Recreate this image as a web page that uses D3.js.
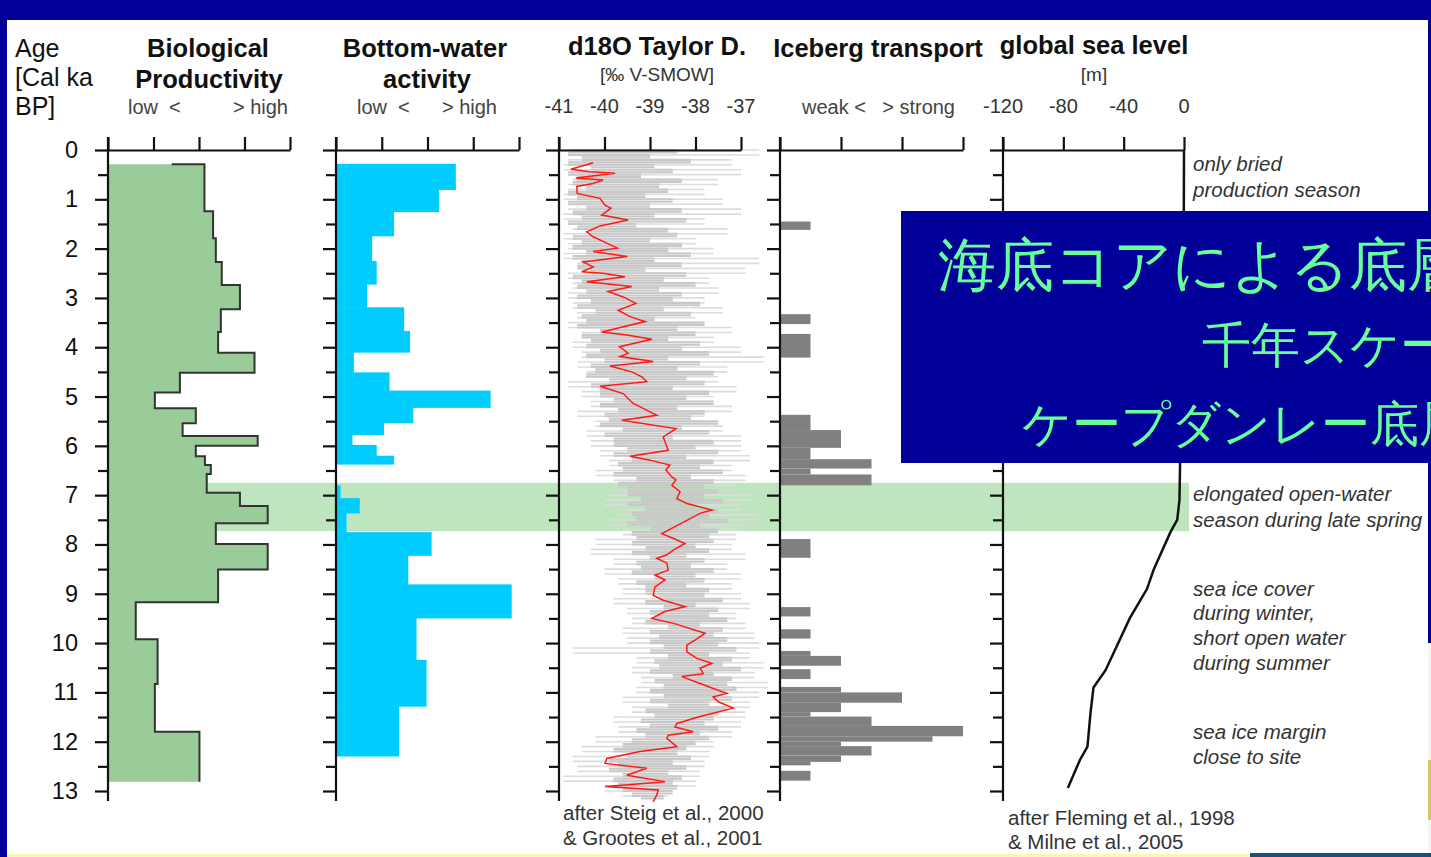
<!DOCTYPE html>
<html>
<head>
<meta charset="utf-8">
<script src="https://cdn.jsdelivr.net/npm/d3@7"></script>
<style>
  html, body { margin: 0; padding: 0; background: #000099; overflow: hidden; }
  svg { display: block; }
  text { font-family: "Liberation Sans", Arial, sans-serif; }
</style>
</head>
<body>
<svg id="chart" width="1431" height="857"></svg>
<script>
// ---------- data ----------
const ageLabels = [0, 1, 2, 3, 4, 5, 6, 7, 8, 9, 10, 11, 12, 13];
const ageHalfTicks = [0.5, 1.5, 2.5, 3.5, 4.5, 5.5, 6.5, 7.5, 8.5, 9.5, 10.5, 11.5, 12.5];

// Biological productivity (relative units 0-4), step profile
const bioBreaks = [0.29, 1.24, 1.79, 2.27, 2.74, 3.23, 3.69, 4.11, 4.52, 4.92, 5.24, 5.54, 5.80,
                   6.00, 6.21, 6.39, 6.57, 6.95, 7.22, 7.57, 7.99, 8.51, 9.17, 9.92, 10.83, 11.80, 12.81];
const bioValues = [2.12, 2.31, 2.37, 2.50, 2.90, 2.48, 2.42, 3.22, 1.58, 1.03, 1.93, 1.64, 3.29,
                   1.93, 2.13, 2.26, 2.17, 2.90, 3.51, 2.37, 3.51, 2.42, 0.61, 1.09, 1.03, 2.01];
const bioTopEdgeStart = 1.4;

// Bottom-water activity (relative units 0-4)
const bwTop   = [0.28, 0.80, 1.25, 1.74, 2.25, 2.72, 3.19, 3.67, 4.10, 4.51, 4.88, 5.22, 5.53, 5.77, 5.98, 6.20,
                 6.80, 7.06, 7.36, 7.75, 8.22, 8.81, 9.49, 10.34, 11.28];
const bwBase  = [0.80, 1.25, 1.74, 2.25, 2.72, 3.19, 3.67, 4.10, 4.51, 4.88, 5.22, 5.53, 5.77, 5.98, 6.20, 6.37,
                 7.06, 7.36, 7.75, 8.22, 8.81, 9.49, 10.34, 11.28, 12.29];
const bwValue = [2.62, 2.25, 1.27, 0.79, 0.89, 0.68, 1.49, 1.62, 0.39, 1.17, 3.38, 1.69, 1.05, 0.36, 0.89, 1.27,
                 0.10, 0.52, 0.23, 2.09, 1.58, 3.84, 1.76, 1.98, 1.38];

// d18O Taylor Dome: evenly spaced raw records (permil), first sample at age 0
const d18oStep = 0.05;
const d18oDark = [
  -40.7, -38.4, -40.8, -39.0, -40.5, -38.1, -40.8, -38.9, -40.3, -38.5, -40.8, -39.2, -40.6, -38.3, -40.7, -38.8, -40.4, -38.6, -40.8, -39.1,
  -40.6, -38.5, -40.8, -39.0, -40.4, -38.3, -40.7, -38.9, -40.5, -38.2, -40.8, -39.3, -40.6, -38.6, -40.3, -38.4, -40.7, -39.0, -40.5, -38.3,
  -40.7, -38.6, -40.4, -38.1, -40.7, -38.9, -40.5, -38.3, -40.6, -39.1, -40.3, -38.2, -40.7, -38.7, -40.5, -38.0, -40.6, -38.8, -40.4, -38.3,
  -40.6, -38.5, -40.3, -37.9, -40.6, -38.7, -40.2, -38.1, -40.5, -38.9, -40.4, -37.8, -40.6, -38.4, -40.1, -38.0, -40.5, -38.6, -40.3, -37.9,
  -40.4, -38.3, -40.1, -37.7, -40.4, -38.6, -40.0, -37.9, -40.3, -38.4, -40.2, -37.6, -40.4, -38.2, -39.9, -37.8, -40.3, -38.5, -40.1, -37.7,
  -40.1, -38.2, -39.8, -37.6, -40.1, -38.4, -39.7, -37.8, -40.0, -38.1, -39.9, -37.5, -40.1, -38.3, -39.6, -37.7, -40.0, -38.5, -39.8, -37.6,
  -39.8, -38.0, -39.5, -37.5, -39.8, -38.2, -39.4, -37.6, -39.7, -37.9, -39.6, -37.4, -39.8, -38.1, -39.3, -37.6, -39.7, -37.8, -39.5, -37.5,
  -39.5, -37.8, -39.2, -37.4, -39.5, -38.0, -39.1, -37.5, -39.4, -37.7, -39.3, -37.3, -39.5, -37.9, -39.0, -37.5, -39.4, -37.7, -39.3, -37.6,
  -39.4, -38.0, -39.1, -37.7, -39.4, -38.2, -39.0, -37.8, -39.3, -38.1, -39.2, -37.6, -39.4, -38.0, -38.9, -37.8, -39.3, -38.2, -39.1, -37.7,
  -39.1, -37.8, -38.8, -37.4, -39.1, -38.0, -38.7, -37.5, -39.0, -37.7, -38.9, -37.3, -39.1, -37.9, -38.6, -37.4, -39.0, -37.6, -38.8, -37.3,
  -39.0, -37.5, -38.7, -37.1, -39.0, -37.7, -38.6, -37.2, -38.9, -37.4, -38.8, -37.0, -39.0, -37.6, -38.5, -37.2, -38.9, -37.3, -38.7, -37.1,
  -39.0, -37.4, -38.7, -37.2, -39.0, -37.7, -38.6, -37.3, -39.1, -37.5, -38.9, -37.6, -39.2, -37.8, -39.0, -37.5, -39.3, -37.9, -39.1, -37.7,
  -39.4, -38.0, -39.6, -38.2, -39.8, -38.4, -39.5, -38.1, -39.9, -38.5, -39.7, -38.2, -39.9, -38.6, -39.6, -38.3, -39.8, -38.5, -39.7, -38.4,
  -39.6, -38.5, -39.4, -38.7, -39.2
];
const d18oLightStep = 0.1;
const d18oLight = [
  -40.9, -36.6, -40.8, -37.2, -40.9, -37.0, -40.7, -37.5, -40.8, -37.8,
  -40.9, -37.4, -40.8, -37.0, -40.9, -37.8, -40.7, -37.3, -40.9, -38.0,
  -40.8, -37.6, -40.9, -36.6, -40.6, -36.9, -40.8, -37.7, -40.7, -37.5,
  -40.8, -37.8, -40.7, -37.4, -40.6, -38.0, -40.8, -37.2, -40.5, -37.6,
  -40.7, -37.0, -40.5, -36.5, -40.6, -37.3, -40.4, -37.5, -40.8, -37.1,
  -40.5, -37.6, -40.3, -37.2, -40.6, -37.8, -40.2, -37.4, -40.4, -37.0,
  -40.3, -37.0, -40.1, -36.8, -39.9, -37.2, -40.2, -36.9, -39.8, -37.1,
  -39.9, -36.7, -40.0, -37.0, -39.7, -36.6, -39.9, -36.9, -39.6, -37.1,
  -40.2, -37.2, -40.3, -36.9, -39.8, -37.3, -40.0, -37.0, -39.7, -37.2,
  -39.6, -37.0, -39.8, -36.8, -39.5, -37.1, -39.4, -36.9, -39.6, -36.7,
  -39.5, -36.6, -40.7, -36.8, -39.3, -36.5, -39.4, -36.7, -39.2, -36.4,
  -39.3, -36.6, -39.6, -36.8, -39.4, -36.9, -39.8, -37.0, -39.7, -37.2,
  -40.2, -37.6, -40.5, -37.7, -40.7, -37.8, -40.6, -37.9, -40.9, -38.0,
  -40.0, -38.6, -39.6
];
// smoothed d18O record
const smoothAge = [0.26, 0.39, 0.44, 0.47, 0.57, 0.61, 0.68, 0.74, 0.88, 0.98, 1.12, 1.18, 1.32, 1.42, 1.54, 1.66, 1.76, 1.89,
  1.99, 2.06, 2.16, 2.27, 2.37, 2.47, 2.50, 2.57, 2.67, 2.77, 2.87, 2.98, 3.11, 3.25, 3.38, 3.48, 3.69, 3.75, 3.84, 3.99,
  4.12, 4.19, 4.29, 4.38, 4.50, 4.60, 4.70, 4.79, 4.94, 5.14, 5.24, 5.38, 5.48, 5.65, 5.82, 6.09, 6.21, 6.29, 6.39, 6.49,
  6.63, 6.69, 6.80, 6.93, 7.07, 7.17, 7.30, 7.37, 7.51, 7.64, 7.78, 7.88, 7.98, 8.11, 8.21, 8.28, 8.38, 8.52, 8.62, 8.72,
  8.86, 9.03, 9.13, 9.26, 9.36, 9.50, 9.60, 9.80, 9.94, 10.04, 10.18, 10.31, 10.41, 10.51, 10.62, 10.68, 10.82, 10.92,
  11.02, 11.09, 11.19, 11.32, 11.49, 11.63, 11.70, 11.80, 11.87, 11.93, 12.10, 12.20, 12.34, 12.44, 12.54, 12.68, 12.81,
  12.88, 12.91, 12.98, 13.08, 13.22];
const smoothValue = [-40.25, -40.74, -40.32, -39.77, -40.63, -40.03, -40.25, -40.61, -40.60, -40.10, -39.99, -39.86, -40.06,
  -39.48, -40.10, -40.39, -40.25, -39.95, -39.72, -40.25, -39.50, -40.47, -40.25, -40.50, -40.03, -39.55, -40.39, -39.40,
  -39.92, -39.59, -39.31, -39.70, -39.44, -39.11, -40.06, -39.51, -38.96, -39.67, -39.48, -39.66, -38.93, -39.88, -39.40,
  -39.18, -39.07, -40.10, -39.59, -39.37, -39.15, -38.85, -39.62, -38.43, -38.71, -38.60, -39.44, -39.00, -38.56, -38.65,
  -38.52, -38.43, -38.52, -38.34, -38.41, -38.19, -37.64, -37.90, -38.19, -38.45, -38.74, -38.48, -38.23, -38.48, -38.63,
  -38.85, -38.63, -38.60, -38.89, -38.67, -38.89, -38.93, -38.71, -38.23, -38.67, -38.96, -38.48, -37.79, -38.01, -38.19,
  -38.19, -37.97, -37.64, -37.90, -37.83, -38.30, -37.90, -37.61, -37.31, -37.61, -37.50, -37.17, -37.90, -38.41, -38.45,
  -38.05, -38.60, -38.63, -38.41, -39.22, -39.95, -39.99, -39.07, -39.51, -38.67, -39.55, -39.99, -38.82, -38.85, -38.93];

// Iceberg transport (relative units 0-3)
const iceTop   = [1.45, 3.33, 3.73, 5.37, 5.68, 6.04, 6.27, 6.46, 6.58, 7.89, 9.27, 9.72, 10.16, 10.26, 10.53,
                  10.89, 11.00, 11.21, 11.40, 11.49, 11.68, 11.89, 12.00, 12.09, 12.28, 12.41, 12.59];
const iceBase  = [1.62, 3.53, 4.21, 5.68, 6.04, 6.27, 6.46, 6.58, 6.80, 8.27, 9.46, 9.91, 10.26, 10.46, 10.73,
                  11.00, 11.21, 11.40, 11.49, 11.68, 11.89, 12.00, 12.09, 12.28, 12.41, 12.48, 12.79];
const iceValue = [0.5, 0.5, 0.5, 0.5, 1.0, 0.5, 1.5, 0.5, 1.5, 0.5, 0.5, 0.5, 0.5, 1.0, 0.5,
                  1.0, 2.0, 1.0, 0.5, 1.5, 3.0, 2.5, 1.0, 1.5, 1.0, 0.5, 0.5];

// Global sea level (m)
const seaAge   = [0, 5.0, 6.35, 7.1, 7.5, 7.75, 8.5, 8.9, 9.5, 10.55, 10.9, 11.42, 12.1, 12.37, 12.94];
const seaLevel = [0, -0.5, -2.6, -3, -4.5, -9, -20, -24.5, -36, -52, -60, -62, -64, -69, -77];

// Highlighted interval (ka)
const highlight = [6.75, 7.73];

// Tick labels
const isoTicks = [-41, -40, -39, -38, -37];
const seaTicks = [-120, -80, -40, 0];

// ---------- drawing ----------
const svg = d3.select("#chart");
const INK = "#111";

svg.append("rect").attr("x", 7).attr("y", 20).attr("width", 1421).attr("height", 837).attr("fill", "#fff");
// slide edge details (bottom strip and lower right corner)
svg.append("rect").attr("x", 1428).attr("y", 643).attr("width", 3).attr("height", 214).attr("fill", "#f4f4f4");
svg.append("rect").attr("x", 1428).attr("y", 760).attr("width", 3).attr("height", 60).attr("fill", "#d8c85a");
svg.append("rect").attr("x", 7).attr("y", 854).attr("width", 1243).attr("height", 3).attr("fill", "#fbf6b0");
svg.append("rect").attr("x", 1250).attr("y", 853).attr("width", 181).attr("height", 4).attr("fill", "#17507a");

const y = d3.scaleLinear().domain([0, 13]).range([150, 791]);
const xBio = d3.scaleLinear().domain([0, 4]).range([108, 290]);
const xBw  = d3.scaleLinear().domain([0, 4]).range([336, 519]);
const xIso = d3.scaleLinear().domain([-41, -37]).range([559, 741]);
const xIce = d3.scaleLinear().domain([0, 3]).range([780, 963]);
const xSea = d3.scaleLinear().domain([-120, 0]).range([1003, 1184]);

// highlighted interval band
svg.append("rect")
  .attr("x", xBio(0)).attr("width", 1189 - xBio(0))
  .attr("y", y(highlight[0])).attr("height", y(highlight[1]) - y(highlight[0]))
  .attr("fill", "#bfe5bf");

// biological productivity
const bioPts = [];
bioValues.forEach((v, i) => { bioPts.push([v, bioBreaks[i]]); bioPts.push([v, bioBreaks[i + 1]]); });
const bioArea = d3.area().y(d => y(d[1])).x0(xBio(0)).x1(d => xBio(d[0]));
svg.append("path").attr("d", bioArea(bioPts)).attr("fill", "#99cc99");
const bioLine = d3.line().x(d => xBio(d[0])).y(d => y(d[1]));
svg.append("path").attr("d", bioLine([[bioTopEdgeStart, bioBreaks[0]], ...bioPts]))
  .attr("fill", "none").attr("stroke", "#333").attr("stroke-width", 2);

// bottom-water activity
svg.append("g").selectAll("rect").data(bwValue).join("rect")
  .attr("x", xBw(0)).attr("y", (d, i) => y(bwTop[i]))
  .attr("width", d => xBw(d) - xBw(0))
  .attr("height", (d, i) => y(bwBase[i]) - y(bwTop[i]) + 0.5)
  .attr("fill", "#00ccff");

// d18O raw records: each sample joined to the next by a horizontal stroke
function isoStrokes(values, step, color, width) {
  const segs = values.slice(1).map((v, i) => ({ age: i * step, a: values[i], b: v }));
  svg.append("g").selectAll("line").data(segs).join("line")
    .attr("x1", d => xIso(d.a)).attr("x2", d => xIso(d.b))
    .attr("y1", d => y(d.age)).attr("y2", d => y(d.age))
    .attr("stroke", color).attr("stroke-width", width);
}
isoStrokes(d18oLight, d18oLightStep, "#dcdcdc", 1.6);
isoStrokes(d18oDark, d18oStep, "#c8c8c8", 2.1);
svg.append("path")
  .attr("d", d3.line().x(d => xIso(d[1])).y(d => y(d[0]))(smoothAge.map((a, i) => [a, smoothValue[i]])))
  .attr("fill", "none").attr("stroke", "#ff1a1a").attr("stroke-width", 1.5);

// iceberg transport
svg.append("g").selectAll("rect").data(iceValue).join("rect")
  .attr("x", xIce(0)).attr("y", (d, i) => y(iceTop[i]))
  .attr("width", d => xIce(d) - xIce(0))
  .attr("height", (d, i) => y(iceBase[i]) - y(iceTop[i]))
  .attr("fill", "#808080");

// sea level
svg.append("path")
  .attr("d", d3.line().x(d => xSea(d[1])).y(d => y(d[0]))(seaAge.map((a, i) => [a, seaLevel[i]])))
  .attr("fill", "none").attr("stroke", INK).attr("stroke-width", 2.5);

// axes
function panelAxes(xScale, topTicks, withLabels) {
  const x0 = xScale.range()[0];
  const gl = svg.append("g").attr("transform", `translate(${x0},0)`);
  const major = d3.axisLeft(y).tickValues(ageLabels).tickSize(13).tickSizeOuter(0)
    .tickPadding(17).tickFormat(withLabels ? d3.format("d") : "");
  gl.call(major);
  gl.append("g").call(d3.axisLeft(y).tickValues(ageHalfTicks).tickSize(10).tickSizeOuter(0).tickFormat(""))
    .select(".domain").remove();
  gl.select(".domain").remove();
  gl.append("line").attr("x1", 0).attr("x2", 0).attr("y1", 137).attr("y2", 801);
  gl.selectAll("line").attr("stroke", INK).attr("stroke-width", 2.2);
  gl.selectAll("text").attr("font-size", 23.5).attr("fill", INK)
    .attr("font-family", "'Liberation Sans', Arial, sans-serif");

  const gt = svg.append("g").attr("transform", "translate(0,150)");
  gt.call(d3.axisTop(xScale).tickValues(topTicks).tickSize(13).tickSizeOuter(0).tickFormat(""));
  gt.select(".domain").attr("stroke", INK).attr("stroke-width", 2.2);
  gt.selectAll("line").attr("stroke", INK).attr("stroke-width", 2.2);
}
panelAxes(xBio, [0, 1, 2, 3, 4], true);
panelAxes(xBw, [0, 1, 2, 3, 4], false);
panelAxes(xIso, isoTicks, false);
panelAxes(xIce, [0, 1, 2, 3], false);
panelAxes(xSea, seaTicks, false);

// headers
const txt = (x, yy, s, opts = {}) => svg.append("text")
  .attr("x", x).attr("y", yy).text(s)
  .attr("font-size", opts.size || 20)
  .attr("font-weight", opts.bold ? "bold" : "normal")
  .attr("font-style", opts.italic ? "italic" : "normal")
  .attr("text-anchor", opts.anchor || "start")
  .attr("fill", opts.fill || INK);

txt(15, 57, "Age", { size: 25 });
txt(15, 86, "[Cal ka", { size: 25 });
txt(15, 115, "BP]", { size: 25 });

txt(208, 57, "Biological", { size: 25.5, bold: true, anchor: "middle" });
txt(209, 88, "Productivity", { size: 25.5, bold: true, anchor: "middle" });
txt(128, 114, "low  <", { size: 20, fill: "#444" }).attr("xml:space", "preserve");
txt(288, 114, "> high", { size: 20, fill: "#444", anchor: "end" });

txt(425, 57, "Bottom-water", { size: 25.5, bold: true, anchor: "middle" });
txt(427, 88, "activity", { size: 25.5, bold: true, anchor: "middle" });
txt(357, 114, "low  <", { size: 20, fill: "#444" }).attr("xml:space", "preserve");
txt(497, 114, "> high", { size: 20, fill: "#444", anchor: "end" });

txt(657, 55, "d18O Taylor D.", { size: 25.5, bold: true, anchor: "middle" });
txt(657, 81, "[‰ V-SMOW]", { size: 19, fill: "#333", anchor: "middle" });
isoTicks.forEach(t => txt(xIso(t), 113, String(t), { size: 20, fill: "#333", anchor: "middle" }));

txt(878, 57, "Iceberg transport", { size: 25.5, bold: true, anchor: "middle" });
txt(802, 114, "weak <", { size: 20, fill: "#444" });
txt(955, 114, "> strong", { size: 20, fill: "#444", anchor: "end" });

txt(1094, 54, "global sea level", { size: 25.5, bold: true, anchor: "middle" });
txt(1094, 81, "[m]", { size: 19, fill: "#333", anchor: "middle" });
seaTicks.forEach(t => txt(xSea(t), 113, String(t), { size: 20, fill: "#333", anchor: "middle" }));

// interpretation notes
const notes = [
  [171, "only bried"], [197, "production season"],
  [501, "elongated open-water"], [527, "season during late spring"],
  [596, "sea ice cover"], [620, "during winter,"], [645, "short open water"], [670, "during summer"],
  [739, "sea ice margin"], [764, "close to site"]
];
notes.forEach(([yy, s]) => txt(1193, yy, s, { size: 20.5, italic: true, fill: "#333" }));

// sources
txt(563, 820, "after Steig et al., 2000", { size: 20.5, fill: "#333" });
txt(563, 845, "& Grootes et al., 2001", { size: 20.5, fill: "#333" });
txt(1008, 825, "after Fleming et al., 1998", { size: 20.5, fill: "#333" });
txt(1008, 849, "& Milne et al., 2005", { size: 20.5, fill: "#333" });

// title box (runs past the right edge of the slide)
svg.append("rect").attr("x", 901).attr("y", 211).attr("width", 530).attr("height", 252).attr("fill", "#000099");
const jp = (x, yy, s, size) => svg.append("text").attr("x", x).attr("y", yy).text(s)
  .attr("font-family", "'Noto Sans CJK JP', 'Noto Sans CJK SC', sans-serif")
  .attr("font-size", size).attr("fill", "#66ff99");
jp(938, 285, "海底コアによる底層", 58);
jp(1202, 362, "千年スケー", 49);
jp(1022, 441, "ケープダンレー底層", 49);
</script>
</body>
</html>
